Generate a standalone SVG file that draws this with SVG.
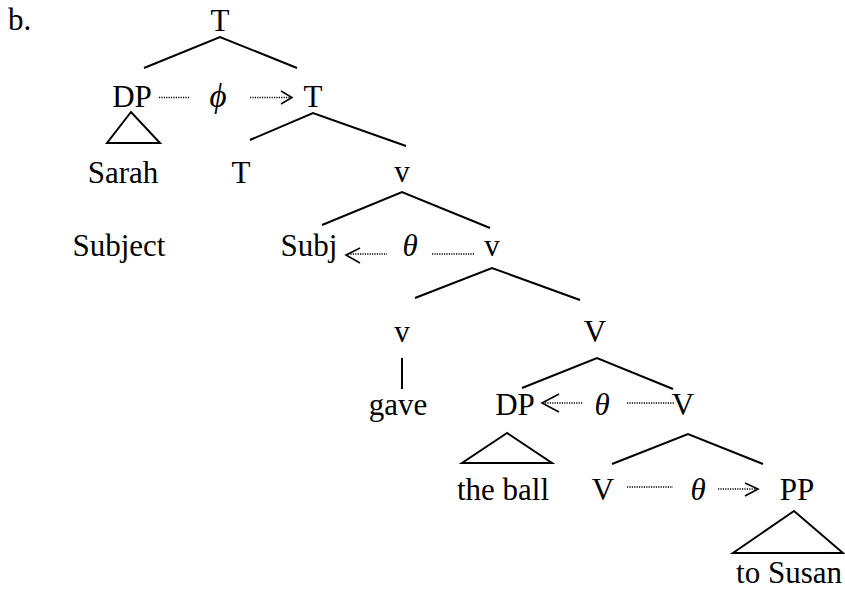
<svg xmlns="http://www.w3.org/2000/svg" width="845" height="590" viewBox="0 0 845 590">
<style>
.e{stroke:#000;stroke-width:2;fill:none}
.d{stroke:#000;stroke-width:1.5;stroke-dasharray:1.2 1.2;fill:none}
.h{stroke:#000;stroke-width:1.6;fill:none}
</style>
<rect width="845" height="590" fill="#fff"/>
<g id="edges">
<polyline class="e" points="144,68 220,37 297,68"/>
<polygon class="e" points="131,112 107,143 160,143"/>
<polyline class="e" points="250,140 313,113 406,146"/>
<polyline class="e" points="322,225 402,192 490,228"/>
<polyline class="e" points="415,298 492,268 580,300"/>
<line class="e" x1="402" y1="358" x2="402" y2="389"/>
<polyline class="e" points="522,388 597,358 673,389"/>
<polygon class="e" points="507,433 462,463 552,463"/>
<polyline class="e" points="612,464 688,434 763,464"/>
<polygon class="e" points="794,511 733,553 843,553"/>
</g>
<g id="relations">
<line class="d" x1="159" y1="97.5" x2="189" y2="97.5"/>
<line class="d" x1="250" y1="97.5" x2="291" y2="97.5"/>
<polyline class="h" points="281,91 292,97.5 281,104"/>
<line class="d" x1="348" y1="254" x2="387" y2="254"/>
<polyline class="h" points="360,248 346,255 360,263"/>
<line class="d" x1="432" y1="254" x2="475" y2="254"/>
<line class="d" x1="545" y1="403" x2="583" y2="403"/>
<polyline class="h" points="559,394 542,403 559,412"/>
<line class="d" x1="627" y1="403" x2="674" y2="403"/>
<line class="d" x1="627" y1="487" x2="673" y2="487"/>
<line class="d" x1="718" y1="489" x2="756" y2="489"/>
<polyline class="h" points="745,483 758,489 745,496"/>
</g>
<g font-family="Liberation Serif, Tinos, Times New Roman, serif" font-size="31" fill="#000" text-anchor="middle">
<text text-anchor="start" x="8" y="30">b.</text>
<g id="n-T-top"><text x="220" y="31">T</text></g>
<g id="n-DP"><text x="132" y="107">DP</text></g>
<g id="n-phi"><text font-style="italic" font-size="33" x="218" y="107">ϕ</text></g>
<g id="n-T-bar"><text x="313" y="107">T</text></g>
<g id="n-Sarah"><text x="123" y="183">Sarah</text></g>
<g id="n-T-head"><text x="241" y="183">T</text></g>
<g id="n-vP"><text x="402" y="182">v</text></g>
<g id="n-Subject"><text x="119" y="256">Subject</text></g>
<g id="n-Subj"><text x="309" y="256">Subj</text></g>
<g id="n-theta1"><text font-style="italic" x="410" y="256">θ</text></g>
<g id="n-v-bar"><text x="492" y="256">v</text></g>
<g id="n-v-head"><text x="402" y="342">v</text></g>
<g id="n-gave"><text x="398" y="415">gave</text></g>
<g id="n-VP"><text x="595" y="342">V</text></g>
<g id="n-DP2"><text x="515" y="415">DP</text></g>
<g id="n-theta2"><text font-style="italic" x="602" y="415">θ</text></g>
<g id="n-V-bar"><text x="683" y="415">V</text></g>
<g id="n-theball"><text x="503" y="500">the ball</text></g>
<g id="n-V-head"><text x="603" y="500">V</text></g>
<g id="n-theta3"><text font-style="italic" x="698" y="500">θ</text></g>
<g id="n-PP"><text x="797" y="500">PP</text></g>
<g id="n-toSusan"><text x="789" y="583">to Susan</text></g>
</g>
</svg>
